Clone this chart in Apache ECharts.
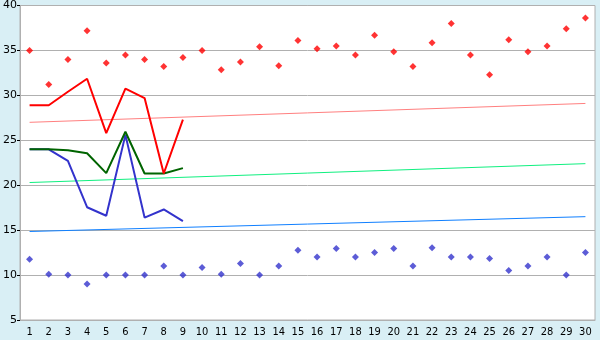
<!DOCTYPE html>
<html>
<head>
<meta charset="utf-8">
<script src="https://cdn.jsdelivr.net/npm/echarts@6/dist/echarts.min.js"></script>
<style>
html,body{margin:0;padding:0;background:#d9eff5;}
#c{width:600px;height:340px;}
</style>
</head>
<body>
<div id="c"></div>
<script>
var categories = ['1','2','3','4','5','6','7','8','9','10','11','12','13','14','15','16','17','18','19','20','21','22','23','24','25','26','27','28','29','30'];
var redPoints = [35.0,31.2,34.0,37.2,33.6,34.5,34.0,33.2,34.2,35.0,32.85,33.7,35.4,33.3,36.1,35.2,35.5,34.5,36.7,34.85,33.2,35.85,38.0,34.5,32.3,36.2,34.85,35.5,37.4,38.6];
var bluePoints = [11.75,10.1,10.0,9.0,10.0,10.0,10.0,11.0,10.0,10.85,10.1,11.3,10.0,11.0,12.75,12.0,12.95,12.0,12.5,12.95,11.0,13.05,12.0,12.0,11.85,10.5,11.0,12.0,10.0,12.5];
var redLine = [28.9,28.9,30.4,31.85,25.8,30.75,29.7,21.3,27.3];
var greenLine = [24.0,24.0,23.9,23.55,21.35,25.95,21.3,21.3,21.9];
var blueLine = [24.0,24.0,22.7,17.55,16.6,25.6,16.4,17.3,16.0];
var trendRed = [[0,27.0],[29,29.1]];
var trendGreen = [[0,20.3],[29,22.4]];
var trendBlue = [[0,14.85],[29,16.5]];
var yTicks = {min:5,max:40,interval:5};

var chart = echarts.init(document.getElementById('c'), null, {renderer:'canvas'});
function line(data, color, width, z){
  return {type:'line', data:data, symbol:'none', z:z,
    lineStyle:{color:color,width:width}, itemStyle:{color:color}, animation:false};
}
function scatter(data, color){
  return {type:'scatter', data:data, symbol:'diamond', symbolSize:7, z:10,
    itemStyle:{color:color}, animation:false};
}
chart.setOption({
  backgroundColor:'#d9eff5',
  animation:false,
  grid:{left:20,right:5,top:5,bottom:20,show:true,backgroundColor:'#ffffff',borderColor:'#b0b0b0',borderWidth:1},
  xAxis:{type:'category',data:categories,boundaryGap:true,
    axisLine:{lineStyle:{color:'#b0b0b0',width:1}},
    axisTick:{alignWithLabel:true,length:5,lineStyle:{color:'#000'}},
    axisLabel:{color:'#000',fontFamily:"'Liberation Sans Narrow','DejaVu Sans Condensed',sans-serif",fontSize:11,margin:7,interval:0},
    splitLine:{show:false}},
  yAxis:{type:'value',min:yTicks.min,max:yTicks.max,interval:yTicks.interval,
    axisLine:{show:true,lineStyle:{color:'#b0b0b0'}},
    axisTick:{show:true,length:3,lineStyle:{color:'#000'}},
    axisLabel:{color:'#000',fontFamily:'DejaVu Sans',fontSize:11,margin:3},
    splitLine:{lineStyle:{color:'#b0b0b0',width:1}}},
  series:[
    line(trendRed,'#ff8080',1,2),
    line(trendGreen,'#10f080',1,2),
    line(trendBlue,'#1080ff',1,2),
    line(blueLine,'#3333cc',2,3),
    line(greenLine,'#006400',2,4),
    line(redLine,'#ff0000',2,5),
    scatter(redPoints,'#ff0000'),
    scatter(bluePoints,'#3333cc')
  ]
});
</script>
</body>
</html>
